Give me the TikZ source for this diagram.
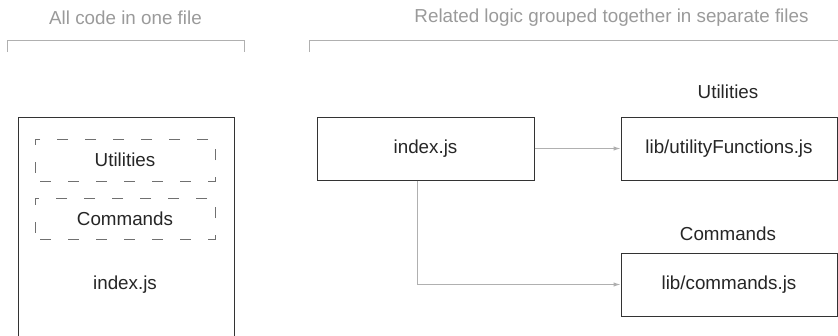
\documentclass[tikz,border=0pt]{standalone}
\usepackage{fontspec}
\setmainfont{Liberation Sans}
\usetikzlibrary{arrows.meta,calc}
\definecolor{titlegray}{HTML}{9A9A9A}
\definecolor{linegray}{HTML}{B0B0B0}
\definecolor{boxline}{HTML}{333333}
\definecolor{dashgray}{HTML}{707070}
\tikzset{
  x=1pt,y=1pt,
  every node/.style={font=\fontsize{18.8}{22}\selectfont, text=black!85},
  titletext/.style={text=titlegray},
  solidbox/.style={draw=boxline, line width=1pt, inner sep=0pt, fill=white},
  dashbox/.style={draw=dashgray, line width=0.8pt, dash pattern=on 11pt off 17pt, dash phase=-5pt},
  bracket/.style={draw=linegray, line width=1pt},
  conn/.style={draw=linegray, line width=1pt, -{Latex[length=7pt,width=4.5pt]}},
}
\begin{document}
\begin{tikzpicture}
\useasboundingbox (0,0) rectangle (838,-335);
\clip (0,0) rectangle (838,-335);
% titles
\node[titletext] (t1) at (125.5,-18) {All code in one file};
\node[titletext] (t2) at (611.5,-18) {Related logic grouped together in separate files};
% brackets
\coordinate (b1a) at (7.5,-52);
\coordinate (b1b) at (7.5,-40.5);
\coordinate (b1c) at (244,-40.5);
\coordinate (b1d) at (244,-52);
\draw[bracket] (b1a) -- (b1b) -- (b1c) -- (b1d);
\coordinate (b2a) at (309,-52);
\coordinate (b2b) at (309,-40.5);
\coordinate (b2c) at (845,-40.5);
\draw[bracket] (b2a) -- (b2b) -- (b2c);
% left single-file box (bottom runs off the picture)
\node[solidbox, minimum width=216pt, minimum height=260pt, anchor=north west] (all) at (18,-116.5) {};
\node[dashbox, minimum width=180pt, minimum height=42pt, inner sep=0pt] (du) at (125,-160) {Utilities};
\node[dashbox, minimum width=180pt, minimum height=41pt, inner sep=0pt] (dc) at (125,-218.5) {Commands};
\node (allidx) at (125,-285) {index.js};
% right side
\node[solidbox, minimum width=217pt, minimum height=63pt] (idx) at (425.5,-148.5) {index.js};
\node[solidbox, minimum width=216pt, minimum height=63pt] (util) at (729,-148.5) {lib/utilityFunctions.js};
\node[solidbox, minimum width=216pt, minimum height=63pt] (cmd) at (729,-284.5) {lib/commands.js};
\node (ulab) at (728,-92) {Utilities};
\node (clab) at (728,-234) {Commands};
% connectors
\draw[conn] (idx.east) -- (util.west);
\coordinate (drop) at ($(idx.south west)!0.465!(idx.south east)$);
\draw[conn] (drop) |- (cmd.west);
\end{tikzpicture}
\end{document}
